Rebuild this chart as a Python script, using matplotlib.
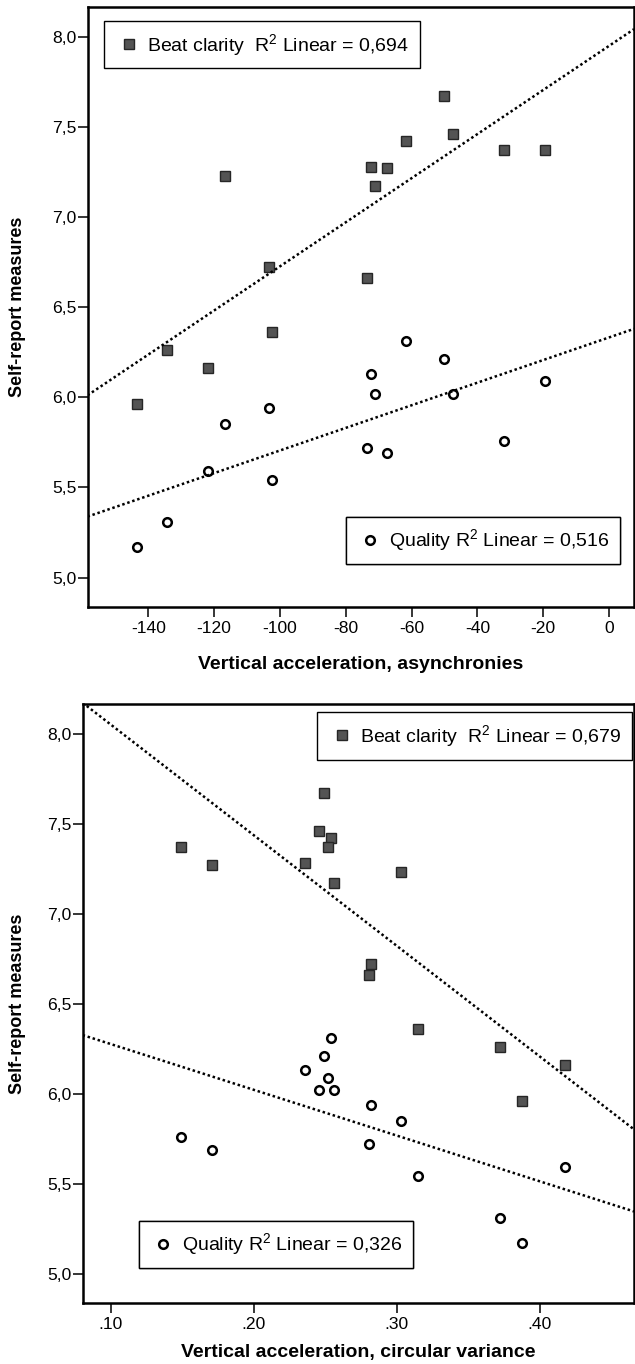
import numpy as np
import matplotlib
matplotlib.use('Agg')
import matplotlib.pyplot as plt
from matplotlib.lines import Line2D
from matplotlib.ticker import FuncFormatter

plt.rcParams['font.family'] = ['Liberation Sans', 'DejaVu Sans']
plt.rcParams['mathtext.fontset'] = 'custom'
plt.rcParams['mathtext.rm'] = 'Liberation Sans'
plt.rcParams['mathtext.it'] = 'Liberation Sans:italic'
plt.rcParams['mathtext.bf'] = 'Liberation Sans:bold'

# 参加者15名分の値（同じ順番で並べる）
asynchrony = [-50.0, -47.4, -61.6, -31.8, -19.5, -116.6, -72.2, -67.4, -71.0,
              -103.2, -73.7, -102.5, -134.3, -122.0, -143.4]
circ_variance = [0.249, 0.246, 0.254, 0.149, 0.252, 0.303, 0.236, 0.171, 0.256,
                 0.282, 0.281, 0.315, 0.372, 0.418, 0.388]
beat_clarity = [7.67, 7.46, 7.42, 7.37, 7.37, 7.23, 7.28, 7.27, 7.17,
                6.72, 6.66, 6.36, 6.26, 6.16, 5.96]
quality = [6.21, 6.02, 6.31, 5.76, 6.09, 5.85, 6.13, 5.69, 6.02,
           5.94, 5.72, 5.54, 5.31, 5.59, 5.17]

# 凡例に出すR2（SPSS出力の値）
r2_async = {'beat': '0,694', 'quality': '0,516'}
r2_circ = {'beat': '0,679', 'quality': '0,326'}

async_ticks = [-140, -120, -100, -80, -60, -40, -20, 0]
circ_ticks = [0.10, 0.20, 0.30, 0.40]
y_ticks = [5.0, 5.5, 6.0, 6.5, 7.0, 7.5, 8.0]

SQUARE = dict(marker='s', markersize=6.6, markerfacecolor='#545454',
              markeredgecolor='#262626', markeredgewidth=1.0, linestyle='none')
CIRCLE = dict(marker='o', markersize=6.2, markerfacecolor='white',
              markeredgecolor='black', markeredgewidth=1.8, linestyle='none')
FIT = dict(color='black', linewidth=1.8, linestyle=(0, (1, 1.1)))

W, H = 635, 1364


def add_legend(ax, style, label, loc, anchor):
    handle = Line2D([], [], **style)
    leg = ax.legend([handle], [label], loc=loc, bbox_to_anchor=anchor,
                    fontsize=14, frameon=True, fancybox=False, framealpha=1,
                    edgecolor='black', borderpad=0.55, handlelength=1.4,
                    handletextpad=0.25, borderaxespad=0, numpoints=1)
    leg.get_frame().set_linewidth(1.0)
    ax.add_artist(leg)


def draw_panel(rect, x, xlim, xticks, xfmt, xlabel, labelpad, r2, beat_leg, qual_leg, ylab_x):
    l, t, r, b = rect
    ax = fig.add_axes([l / W, 1 - b / H, (r - l) / W, (b - t) / H])
    ax.set_xlim(xlim)
    ax.set_ylim(4.835, 8.165)

    # 散布図と回帰直線（軸の端から端まで）
    for y, style in ((beat_clarity, SQUARE), (quality, CIRCLE)):
        ax.plot(x, y, **style, zorder=3)
        slope, icpt = np.polyfit(x, y, 1)
        xs = np.array(xlim)
        ax.plot(xs, slope * xs + icpt, **FIT, zorder=4)

    ax.set_xticks(xticks)
    ax.set_yticks(y_ticks)
    ax.xaxis.set_major_formatter(FuncFormatter(xfmt))
    ax.yaxis.set_major_formatter(FuncFormatter(lambda v, p: f'{v:.1f}'.replace('.', ',')))
    ax.tick_params(direction='out', length=7, width=1.1, labelsize=12.6,
                   colors='black', top=False, right=False)
    ax.tick_params(axis='y', pad=0.8)
    ax.tick_params(axis='x', pad=2.6)
    for s in ax.spines.values():
        s.set_linewidth(1.8)

    ax.set_xlabel(xlabel, fontsize=14, fontweight='bold', labelpad=labelpad)
    ax.set_ylabel('Self-report measures', fontsize=13, fontweight='bold')
    ax.yaxis.set_label_coords(ylab_x, 0.5)

    add_legend(ax, SQUARE, 'Beat clarity  R$^2$ Linear = ' + r2['beat'], *beat_leg)
    add_legend(ax, CIRCLE, 'Quality R$^2$ Linear = ' + r2['quality'], *qual_leg)
    return ax


fig = plt.figure(figsize=(W / 100, H / 100), dpi=100)

# 上段：非同期（asynchronies）
draw_panel((87.5, 7, 634, 607.3), asynchrony, (-158.5, 7.6), async_ticks,
           lambda v, p: f'{v:.0f}', 'Vertical acceleration, asynchronies', 15,
           r2_async,
           ('upper left', (0.0307, 0.9767)),
           ('upper left', (0.473, 0.1509)),
           -0.112)

# 下段：円分散（circular variance）
draw_panel((82.6, 704.3, 634, 1303.3), circ_variance, (0.0804, 0.466), circ_ticks,
           lambda v, p: f'{v:.2f}'.lstrip('0'), 'Vertical acceleration, circular variance', 9,
           r2_circ,
           ('upper right', (0.9964, 0.9866)),
           ('upper left', (0.1023, 0.1379)),
           -0.102)

fig.savefig('out.png', dpi=100)
